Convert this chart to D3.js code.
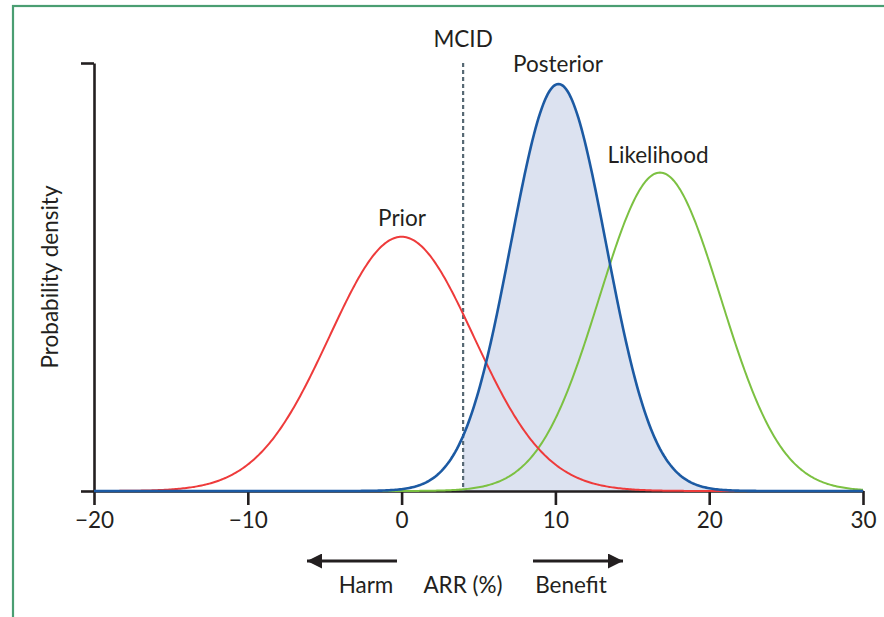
<!DOCTYPE html>
<html>
<head>
<meta charset="utf-8">
<script src="https://cdn.jsdelivr.net/npm/d3@7"></script>
<style>
body{margin:0;background:#fff;}
svg text{font-family:Lato,"Open Sans",sans-serif;fill:#231f20;}
</style>
</head>
<body>
<svg id="chart" width="884" height="617"></svg>
<script>
// distributions (ARR %)
var curveNames=["Likelihood","Prior","Posterior"];
var curveMeans=[16.8,0,10.2];
var curveSds=[3.95,4.7,3.1];
var curvePeaks=[0.744,0.594,0.951];   // relative height of each peak
var curveColors=["#7cc142","#ee3b3b","#1c5aa3"];
var labelPos=[[658,163],[402,226],[558,72]];
var mcid=4;
var xTicks=[-20,-10,0,10,20,30];

var fs=22.5;
var svg=d3.select("#chart");

// panel frame
svg.append("rect").attr("x",13).attr("y",6).attr("width",900).attr("height",700)
	.attr("fill","none").attr("stroke","#4a9e72").attr("stroke-width",2.2);

var x=d3.scaleLinear().domain([-20,30]).range([94,863]);
var y=d3.scaleLinear().domain([0,1]).range([491,63]);

function dens(i,v){
	return curvePeaks[i]*Math.exp(-Math.pow(v-curveMeans[i],2)/(2*curveSds[i]*curveSds[i]));
}
var xs=d3.range(-20,30.001,0.1);

// shaded posterior beyond MCID
var area=d3.area().x(d=>x(d)).y0(y(0)).y1(d=>y(dens(2,d)));
svg.append("path").datum(xs.filter(d=>d>=mcid))
	.attr("d",area).attr("fill","#dce2f0");

// axes
var xAxis=svg.append("g").attr("transform","translate(0,"+y(0)+")")
	.call(d3.axisBottom(x).tickValues(xTicks).tickSize(14).tickSizeOuter(0).tickPadding(7));
xAxis.selectAll("text").attr("font-size",fs).attr("font-family","Lato");
var yAxis=svg.append("g").attr("transform","translate("+x(-20)+",0)")
	.call(d3.axisLeft(y).tickValues([0,1]).tickSize(13).tickSizeOuter(0).tickFormat(""));
svg.selectAll(".domain, .tick line").attr("stroke","#231f20").attr("stroke-width",2.6);

// MCID line
svg.append("line").attr("x1",x(mcid)).attr("x2",x(mcid)).attr("y1",y(1)).attr("y2",y(0))
	.attr("stroke","#566873").attr("stroke-width",2.2).attr("stroke-dasharray","4,3");
svg.append("text").attr("x",x(mcid)).attr("y",47).attr("text-anchor","middle")
	.attr("font-size",fs).text("MCID");

// curves
for(var i=0;i<curveNames.length;i++){
	var pts=xs.map(function(d){return {x:d,v:dens(i,d)};});
	svg.append("path").datum(pts)
		.attr("d",d3.line().x(d=>x(d.x)).y(d=>y(d.v)))
		.attr("fill","none").attr("stroke",curveColors[i])
		.attr("stroke-width",i==2?2.6:2);
	svg.append("text").attr("x",labelPos[i][0]).attr("y",labelPos[i][1])
		.attr("text-anchor","middle").attr("font-size",fs).text(curveNames[i]);
}

// y label
svg.append("text").attr("transform","translate(58,277) rotate(-90)")
	.attr("text-anchor","middle").attr("font-size",fs).text("Probability density");

// direction arrows
svg.append("defs").append("marker").attr("id","ah").attr("viewBox","0 0 10 10")
	.attr("refX",10).attr("refY",5).attr("markerWidth",16).attr("markerHeight",15)
	.attr("markerUnits","userSpaceOnUse").attr("orient","auto")
	.append("path").attr("d","M0,0L10,5L0,10Z").attr("fill","#231f20");
svg.append("line").attr("x1",397).attr("x2",307).attr("y1",561).attr("y2",561)
	.attr("stroke","#231f20").attr("stroke-width",3).attr("marker-end","url(#ah)");
svg.append("line").attr("x1",533).attr("x2",623).attr("y1",561).attr("y2",561)
	.attr("stroke","#231f20").attr("stroke-width",3).attr("marker-end","url(#ah)");
svg.append("text").attr("x",366).attr("y",593).attr("text-anchor","middle").attr("font-size",fs).text("Harm");
svg.append("text").attr("x",463).attr("y",593).attr("text-anchor","middle").attr("font-size",fs).text("ARR (%)");
svg.append("text").attr("x",571).attr("y",593).attr("text-anchor","middle").attr("font-size",fs).text("Benefit");
</script>
</body>
</html>
